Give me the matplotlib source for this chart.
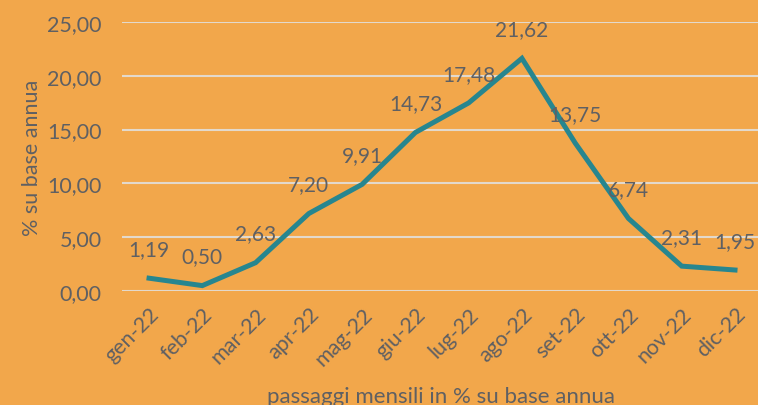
import matplotlib
matplotlib.use('Agg')
import matplotlib.pyplot as plt

months = ['gen-22', 'feb-22', 'mar-22', 'apr-22', 'mag-22', 'giu-22',
          'lug-22', 'ago-22', 'set-22', 'ott-22', 'nov-22', 'dic-22']
values = [1.19, 0.50, 2.63, 7.20, 9.91, 14.73, 17.48, 21.62, 13.75, 6.74, 2.31, 1.95]
yticks = [0, 5, 10, 15, 20, 25]

bg = '#F2A74B'
txt = '#5f6063'
plt.rcParams['font.family'] = ['Lato', 'DejaVu Sans']

fig = plt.figure(figsize=(7.58, 4.06), dpi=100, facecolor=bg)
ax = fig.add_axes([0.1615, 0.2808, 0.8433, 0.6626], facecolor=bg)

x = range(len(months))
ax.plot(x, values, color='#27868F', lw=3.6, solid_joinstyle='miter', zorder=3)

# data labels above each point
for xi, v in zip(x, values):
    ax.annotate(('%.2f' % v).replace('.', ','), (xi, v), xytext=(0, 21),
                textcoords='offset points', ha='center', va='center',
                fontsize=15, color=txt, zorder=4)

ax.set_xlim(-0.5, len(months) - 0.5)
ax.set_ylim(0, 25)
ax.set_yticks(yticks)
ax.set_yticklabels(['%d,00' % t for t in yticks], fontsize=15.5, color=txt)
ax.set_xticks(list(x))
ax.set_xticklabels(months, rotation=45, ha='right', rotation_mode='anchor',
                   fontsize=15.5, color=txt)
ax.tick_params(length=0, pad=9)
ax.tick_params(axis='y', pad=15)
ax.grid(axis='y', color='#E3D9CC', lw=1.5, zorder=1)
ax.set_axisbelow(True)
for s in ax.spines.values():
    s.set_visible(False)

ax.set_ylabel('% su base annua', fontsize=15.5, color=txt, labelpad=4)
fig.text(0.582, 0.022, 'passaggi mensili in % su base annua', ha='center',
         va='center', fontsize=16, color=txt)

fig.savefig('out.png', dpi=100, facecolor=bg)
